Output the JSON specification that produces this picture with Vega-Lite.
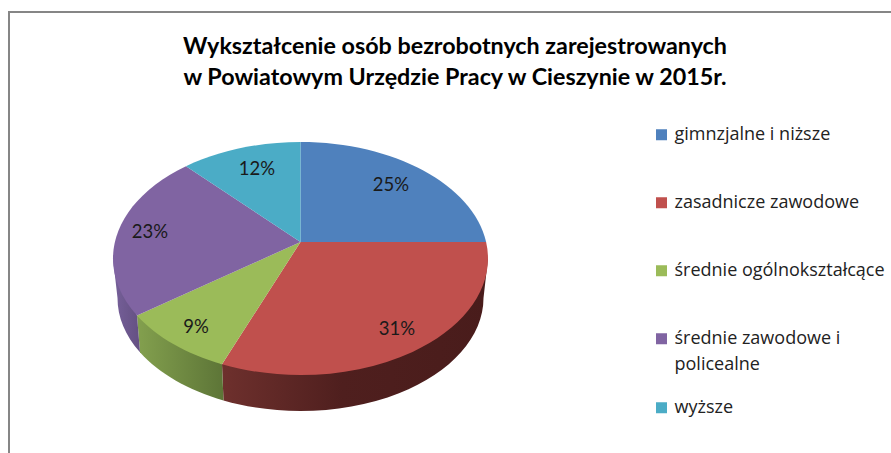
{
  "$schema": "https://vega.github.io/schema/vega-lite/v6.json",
  "width": 900,
  "height": 460,
  "autosize": {"type": "none"},
  "padding": {"left": 9, "top": 12, "right": 0, "bottom": 0},
  "background": "white",
  "view": {"stroke": "#868686", "strokeWidth": 2, "fill": "white"},
  "config": {"style": {"guide-label": {"lineHeight": 26}}},
  "title": {
    "text": ["Wykształcenie osób bezrobotnych zarejestrowanych", "w Powiatowym Urzędzie Pracy w Cieszynie w 2015r."],
    "anchor": "middle",
    "frame": "group",
    "dx": -4,
    "offset": -78,
    "font": "Lato",
    "fontWeight": "bold",
    "fontSize": 23.3,
    "lineHeight": 31,
    "color": "#000000"
  },
  "data": {
    "values": [
      {"kategoria": "gimnzjalne i niższe", "udzial": 0.25},
      {"kategoria": "zasadnicze zawodowe", "udzial": 0.31},
      {"kategoria": "średnie ogólnokształcące", "udzial": 0.09},
      {"kategoria": "średnie zawodowe i policealne", "udzial": 0.23},
      {"kategoria": "wyższe", "udzial": 0.12}
    ]
  },
  "layer": [
    {
      "transform": [{"filter": "datum.kategoria === 'zasadnicze zawodowe'"}],
      "mark": {
        "type": "point", "filled": true, "opacity": 1, "size": 4,
        "shape": "M 29 16.5 L 24.5 56 A 183 113 0 0 1 -235.5 158.5 L -237 122.3 Z",
        "fill": {"gradient": "linear", "x1": 0, "x2": 1, "y1": 0, "y2": 0, "stops": [
          {"offset": 0, "color": "#6e302d"}, {"offset": 0.45, "color": "#4f1f1e"}, {"offset": 1, "color": "#491c1b"}
        ]}
      },
      "encoding": {}
    },
    {
      "transform": [{"filter": "datum.kategoria === 'średnie ogólnokształcące'"}],
      "mark": {
        "type": "point", "filled": true, "opacity": 1, "size": 4,
        "shape": "M -237 122.3 L -235.5 158.5 A 183 113 0 0 1 -319 110.3 L -322 73.53 Z",
        "fill": {"gradient": "linear", "x1": 0, "x2": 1, "y1": 0, "y2": 0, "stops": [
          {"offset": 0, "color": "#83a04e"}, {"offset": 1, "color": "#5d7537"}
        ]}
      },
      "encoding": {}
    },
    {
      "transform": [{"filter": "datum.kategoria === 'średnie zawodowe i policealne'"}],
      "mark": {
        "type": "point", "filled": true, "opacity": 1, "size": 4,
        "shape": "M -322 73.53 L -319 110.3 A 183 113 0 0 1 -341.5 56 L -346 16.5 Z",
        "fill": {"gradient": "linear", "x1": 0, "x2": 1, "y1": 0, "y2": 0, "stops": [
          {"offset": 0, "color": "#76609a"}, {"offset": 1, "color": "#645082"}
        ]}
      },
      "encoding": {}
    },
    {
      "transform": [{"filter": "datum.kategoria === 'gimnzjalne i niższe'"}],
      "mark": {"type": "point", "filled": true, "opacity": 1, "size": 4, "shape": "M -158.5 0 L -158.5 -100 A 187.5 116.5 0 0 1 27.11 0 Z"},
      "encoding": {
        "color": {
          "field": "kategoria", "type": "nominal",
          "scale": {
            "domain": ["gimnzjalne i niższe", "zasadnicze zawodowe", "średnie ogólnokształcące", "średnie zawodowe i policealne", "wyższe"],
            "range": ["#4F81BD", "#C0504D", "#9BBB59", "#8064A2", "#4BACC6"]
          },
          "legend": {
            "title": null,
            "orient": "none",
            "legendX": 643.5,
            "legendY": 89,
            "symbolType": "square",
            "symbolSize": 121,
            "symbolStrokeWidth": 0,
            "labelFont": "Open Sans",
            "labelFontSize": 18,
            "labelColor": "#222222",
            "labelOffset": 4,
            "labelLimit": 260,
            "rowPadding": 0,
            "clipHeight": 67.5,
            "labelExpr": "datum.label === 'średnie zawodowe i policealne' ? ['średnie zawodowe i', 'policealne'] : datum.label",
            "encode": {
              "labels": {"update": {"baseline": {"value": "top"}, "dy": {"value": -11}}}
            }
          }
        }
      }
    },
    {
      "transform": [{"filter": "datum.kategoria === 'zasadnicze zawodowe'"}],
      "mark": {"type": "point", "filled": true, "opacity": 1, "size": 4, "shape": "M -158.5 0 L 27.11 0 A 187.5 116.5 0 0 1 -237 122.3 Z"},
      "encoding": {"color": {"field": "kategoria", "type": "nominal"}}
    },
    {
      "transform": [{"filter": "datum.kategoria === 'średnie ogólnokształcące'"}],
      "mark": {"type": "point", "filled": true, "opacity": 1, "size": 4, "shape": "M -158.5 0 L -237 122.3 A 187.5 116.5 0 0 1 -322 73.53 Z"},
      "encoding": {"color": {"field": "kategoria", "type": "nominal"}}
    },
    {
      "transform": [{"filter": "datum.kategoria === 'średnie zawodowe i policealne'"}],
      "mark": {"type": "point", "filled": true, "opacity": 1, "size": 4, "shape": "M -158.5 0 L -322 73.53 A 187.5 116.5 0 0 1 -273 -75.76 Z"},
      "encoding": {"color": {"field": "kategoria", "type": "nominal"}}
    },
    {
      "transform": [{"filter": "datum.kategoria === 'wyższe'"}],
      "mark": {"type": "point", "filled": true, "opacity": 1, "size": 4, "shape": "M -158.5 0 L -273 -75.76 A 187.5 116.5 0 0 1 -158.5 -100 Z"},
      "encoding": {"color": {"field": "kategoria", "type": "nominal"}}
    },
    {
      "transform": [{"filter": "datum.kategoria === 'gimnzjalne i niższe'"}],
      "mark": {"type": "text", "font": "Lato", "fontSize": 18.5, "color": "#1a1a1a", "dx": -68, "dy": -57},
      "encoding": {"text": {"field": "udzial", "type": "quantitative", "format": ".0%"}}
    },
    {
      "transform": [{"filter": "datum.kategoria === 'zasadnicze zawodowe'"}],
      "mark": {"type": "text", "font": "Lato", "fontSize": 18.5, "color": "#1a1a1a", "dx": -62, "dy": 87},
      "encoding": {"text": {"field": "udzial", "type": "quantitative", "format": ".0%"}}
    },
    {
      "transform": [{"filter": "datum.kategoria === 'średnie ogólnokształcące'"}],
      "mark": {"type": "text", "font": "Lato", "fontSize": 18.5, "color": "#1a1a1a", "dx": -263, "dy": 85},
      "encoding": {"text": {"field": "udzial", "type": "quantitative", "format": ".0%"}}
    },
    {
      "transform": [{"filter": "datum.kategoria === 'średnie zawodowe i policealne'"}],
      "mark": {"type": "text", "font": "Lato", "fontSize": 18.5, "color": "#1a1a1a", "dx": -309, "dy": -10},
      "encoding": {"text": {"field": "udzial", "type": "quantitative", "format": ".0%"}}
    },
    {
      "transform": [{"filter": "datum.kategoria === 'wyższe'"}],
      "mark": {"type": "text", "font": "Lato", "fontSize": 18.5, "color": "#1a1a1a", "dx": -202, "dy": -73},
      "encoding": {"text": {"field": "udzial", "type": "quantitative", "format": ".0%"}}
    }
  ]
}
